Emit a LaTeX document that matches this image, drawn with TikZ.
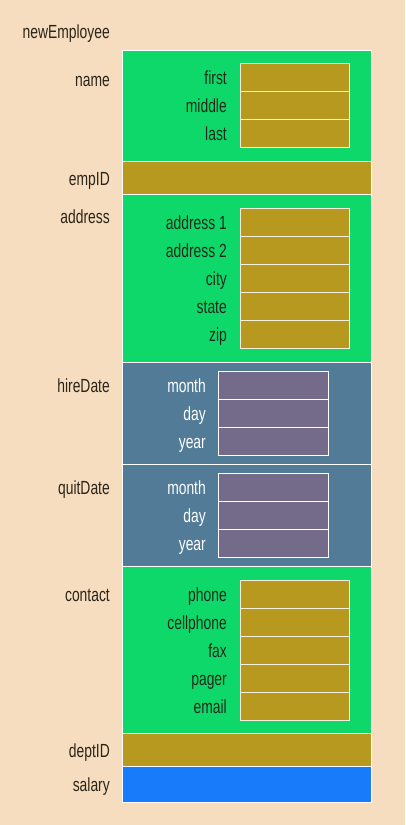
\documentclass[tikz,border=0pt]{standalone}
\usepackage{fontspec}
\setmainfont{Liberation Sans}[FakeStretch=0.73]
\definecolor{bg}{HTML}{F7DDBF}
\definecolor{grn}{HTML}{0FD86B}
\definecolor{gold}{HTML}{B8991F}
\definecolor{steel}{HTML}{517B97}
\definecolor{purp}{HTML}{746A8A}
\definecolor{blu}{HTML}{177BFA}
\definecolor{txtout}{HTML}{2B2418}
\definecolor{txtin}{HTML}{1C2A1B}
\begin{document}
\begin{tikzpicture}[x=1pt,y=-1pt,
  box/.style={draw=white, line width=1pt, inner sep=0pt, outer sep=0pt, anchor=north west},
  seg/.style={box, minimum width=249pt},
  fld/.style={box, draw=white!85!gold, line width=0.9pt, minimum width=109pt, minimum height=28pt, fill=gold},
  dfld/.style={box, line width=0.9pt, minimum width=110pt, minimum height=28pt, fill=purp},
  lbl/.style={anchor=base east, inner sep=0pt, font=\fontsize{19}{22}\selectfont, text=txtout},
  flbl/.style={lbl, text=txtin},
  wlbl/.style={lbl, text=white}]
\useasboundingbox (0,0) rectangle (405,825);
\fill[bg] (0,0) rectangle (405,825);
% main segments
\node[seg, fill=grn,   minimum height=111pt] (name)    at (122,50) {};
\node[seg, fill=gold,  minimum height=33.5pt] (empID)  at (122,161) {};
\node[seg, fill=grn,   minimum height=168pt] (address) at (122,194.5) {};
\node[seg, fill=steel, minimum height=102pt] (hire)    at (122,362.5) {};
\node[seg, fill=steel, minimum height=101.5pt] (quit)  at (122,464.5) {};
\node[seg, fill=grn,   minimum height=167.5pt] (contact) at (122,566) {};
\node[seg, fill=gold,  minimum height=33pt] (dept)     at (122,733.5) {};
\node[seg, fill=blu,   minimum height=35.5pt] (salary) at (122,766.5) {};
% fields
\foreach \t [count=\i] in {first,middle,last}{
  \node[fld] (nm\i) at (240,{63+28*(\i-1)}) {};
  \node[flbl] (nml\i) at (227,{84+28*(\i-1)}) {\t};
}
\foreach \t [count=\i] in {address 1,address 2,city,state,zip}{
  \node[fld] (ad\i) at (240,{208+28*(\i-1)}) {};
  \node[flbl] (adl\i) at (227,{229+28*(\i-1)}) {\t};
}
\foreach \t [count=\i] in {month,day,year}{
  \node[dfld] (hd\i) at (218,{371.5+28*(\i-1)}) {};
  \node[wlbl] (hdl\i) at (206,{392+28*(\i-1)}) {\t};
  \node[dfld] (qd\i) at (218,{473.5+28*(\i-1)}) {};
  \node[wlbl] (qdl\i) at (206,{494+28*(\i-1)}) {\t};
}
\foreach \t [count=\i] in {phone,cellphone,fax,pager,email}{
  \node[fld] (ct\i) at (240,{580+28*(\i-1)}) {};
  \node[flbl] (ctl\i) at (227,{601+28*(\i-1)}) {\t};
}
% outer labels
\node[lbl] (lnew) at (110,38) {newEmployee};
\node[lbl] (lname) at (110,86) {name};
\node[lbl] (lemp) at (110,185) {empID};
\node[lbl] (laddr) at (110,223) {address};
\node[lbl] (lhire) at (110,392) {hireDate};
\node[lbl] (lquit) at (110,494) {quitDate};
\node[lbl] (lcont) at (110,601) {contact};
\node[lbl] (ldept) at (110,757) {deptID};
\node[lbl] (lsal) at (110,791) {salary};
\end{tikzpicture}
\end{document}
